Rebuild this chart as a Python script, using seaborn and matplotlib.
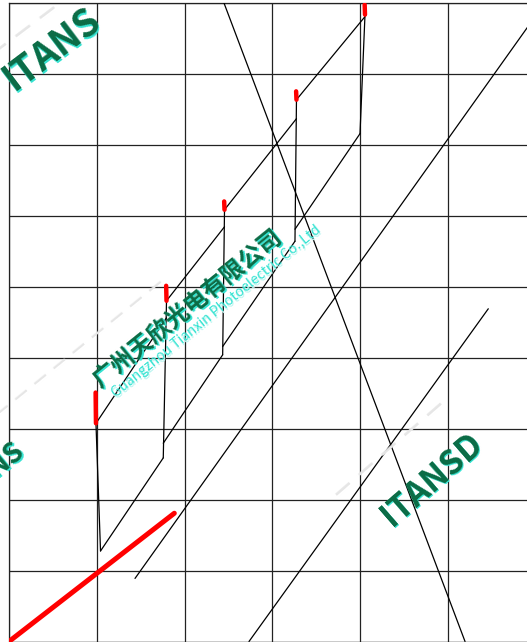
# plot.py - sơ đồ bậc thang (staircase) trên lưới 6 x 9
import numpy as np
import pandas as pd
import matplotlib
matplotlib.use("Agg")
import matplotlib.pyplot as plt
import seaborn as sns

# === DỮ LIỆU (đơn vị: ô lưới) ===
# đỉnh các vạch đỏ và chân các đoạn dọc
step_x_top = [0.991, 1.795, 2.456, 3.276, 4.057]
step_y_top = [3.075, 4.803, 6.086, 7.637, 8.836]
red_y_top = [3.509, 5.014, 6.203, 7.755, 8.977]
step_x_bot = [1.043, 1.758, 2.435, 3.259, 4.000]
step_y_bot = [1.276, 2.588, 4.041, 5.642, 7.158]
# điểm chạm của đường chéo trên / điểm xuất phát của đường chéo dưới
upper_end_y = [4.563, 5.846, 7.370, 8.808]
lower_start_y = [1.276, 2.795, 4.158, 5.811]

# các đường thẳng dài
long_x0 = [1.436, 2.735, 2.450]
long_y0 = [0.889, 0.000, 9.000]
long_x1 = [6.100, 5.462, 5.197]
long_y1 = [8.990, 4.690, 0.000]

# đường đỏ đậm
red_x = [0.0, 1.884]
red_y = [0.0, 1.808]

# === DỰNG BẢNG ĐOẠN THẲNG ===
rows = []
seg = 0
def add(x0, y0, x1, y1, kind):
    global seg
    rows.append({"x": x0, "y": y0, "seg": seg, "kind": kind})
    rows.append({"x": x1, "y": y1, "seg": seg, "kind": kind})
    seg += 1

for i in range(len(step_x_top)):
    add(step_x_top[i], step_y_top[i], step_x_bot[i], step_y_bot[i], "black")
    add(step_x_top[i], step_y_top[i], step_x_top[i] - 0.004, red_y_top[i], "mark")
for i in range(len(step_x_top) - 1):
    # đường chéo trên: từ chân vạch đỏ i tới đoạn dọc i+1
    add(step_x_top[i], step_y_top[i], step_x_top[i + 1], upper_end_y[i], "black")
    # đường chéo dưới: từ đoạn dọc i tới chân đoạn dọc i+1
    add(step_x_bot[i], lower_start_y[i], step_x_bot[i + 1], step_y_bot[i + 1], "black")
for i in range(len(long_x0)):
    add(long_x0[i], long_y0[i], long_x1[i], long_y1[i], "black")
add(red_x[0], red_y[0], red_x[1], red_y[1], "red")
df = pd.DataFrame(rows)

# === VẼ ===
sns.set_style("white")
W, H = 527, 642
fig = plt.figure(figsize=(W / 100, H / 100), dpi=100)
ax = fig.add_axes([9 / W, 0.5 / H, 526.5 / W, 638.5 / H])

FAM = ["Noto Sans CJK SC", "DejaVu Sans"]

# watermark (chữ mờ) nằm dưới lưới
def wm(px, py, s, size, rot, color, shadow, weight="bold"):
    fig.text((px + 1.5) / W, 1 - (py + 1.5) / H, s, fontsize=size, rotation=rot,
             color=shadow, fontweight=weight, rotation_mode="anchor",
             ha="left", va="baseline", zorder=0, family=FAM)
    fig.text(px / W, 1 - py / H, s, fontsize=size, rotation=rot, color=color,
             fontweight=weight, rotation_mode="anchor", ha="left", va="baseline",
             zorder=0, family=FAM)

def dashes(px, py, s, size, rot):
    fig.text(px / W, 1 - py / H, s, fontsize=size, rotation=rot, color="#e6e6e6",
             fontweight="bold", rotation_mode="anchor", ha="left", va="baseline",
             zorder=0, family=FAM)

dashes(-5, 60, "—  —  —", 16, 37)
dashes(340, 500, "—  —  —  —  —", 16, 41)
dashes(0, 420, "—  —  —  —  —  —  —  —  —", 13, 39)

wm(14, 92, "ITANS", 27, 37, "#0b6b45", "#35e3d2")
wm(392, 527, "ITANSD", 24, 41, "#0b6b45", "#35e3d2")
wm(-38, 505, "ITANS", 20, 39, "#0b6b45", "#35e3d2")
wm(100, 388, "广州天欣光电有限公司", 17, 39, "#0b6b45", "#35e3d2")
wm(116, 398, "Guangzhou Tianxin Photoelectric Co.,Ltd", 10, 39, "#35e3d2",
   "#bff6f1", weight="normal")

ax.set_facecolor("none")
fig.patch.set_facecolor("white")

sns.lineplot(data=df[df["kind"] == "black"], x="x", y="y", units="seg",
             estimator=None, sort=False, color="black", lw=0.9, ax=ax, zorder=3)
sns.lineplot(data=df[df["kind"] == "mark"], x="x", y="y", units="seg",
             estimator=None, sort=False, color="red", lw=3.2, ax=ax, zorder=4,
             solid_capstyle="round")
sns.lineplot(data=df[df["kind"] == "red"], x="x", y="y", units="seg",
             estimator=None, sort=False, color="red", lw=3.6, ax=ax, zorder=4)

ax.set_xlim(0, 6)
ax.set_ylim(0, 9)
ax.set_xticks(np.arange(0, 7))
ax.set_yticks(np.arange(0, 10))
ax.grid(True, color="#222222", lw=0.9)
ax.tick_params(length=0, labelbottom=False, labelleft=False)
ax.set_xlabel("")
ax.set_ylabel("")
for sp in ax.spines.values():
    sp.set_color("#222222")
    sp.set_linewidth(0.9)

fig.savefig("out.png", dpi=100)
